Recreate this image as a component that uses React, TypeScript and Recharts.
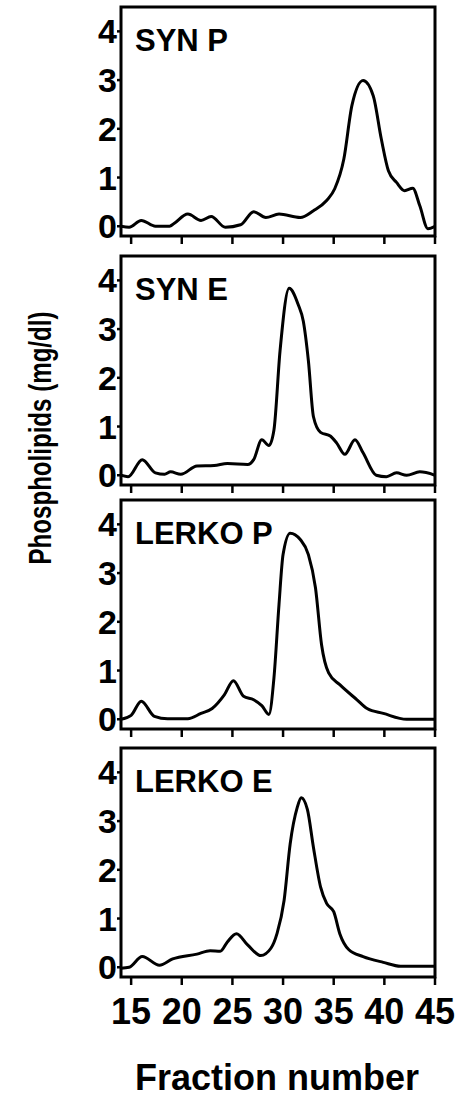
import { LineChart, Line, XAxis, YAxis, ReferenceArea } from "recharts";

// fraction positions and phospholipid values (mg/dl)
const synPFractions = [14, 14.8, 16, 17.4, 18.8, 19.2, 20.6, 21.9, 22.9, 24.3, 25.8, 27.1, 28.3, 29.6, 31.7, 33.0, 34.3, 35.1, 36.0, 36.8, 37.9, 38.9, 39.7, 40.4, 41.2, 42.0, 42.8, 43.5, 44.3, 45];
const synPValues = [0, -0.02, 0.12, 0, 0, 0.05, 0.25, 0.12, 0.2, -0.02, 0.03, 0.3, 0.18, 0.25, 0.18, 0.32, 0.53, 0.77, 1.38, 2.48, 2.99, 2.68, 1.79, 1.14, 0.9, 0.73, 0.78, 0.42, -0.05, 0];

const synEFractions = [14, 14.7, 16.1, 17.4, 18.3, 18.9, 19.9, 21.5, 23.2, 24.5, 26.5, 27.1, 27.9, 28.6, 29.1, 29.7, 30.6, 31.5, 32.0, 32.5, 33.0, 33.7, 34.7, 35.3, 36.1, 37.1, 37.9, 39.2, 40.2, 41.2, 42.2, 43.5, 45];
const synEValues = [0, -0.03, 0.32, 0.05, 0.02, 0.07, 0.02, 0.19, 0.2, 0.24, 0.22, 0.32, 0.73, 0.61, 0.93, 2.55, 3.84, 3.5, 3.16, 2.35, 1.2, 0.88, 0.8, 0.66, 0.43, 0.73, 0.46, 0, -0.03, 0.05, 0, 0.07, 0];

const lerkoPFractions = [14, 15, 16, 17.3, 18.6, 20.6, 21.9, 23.0, 24.2, 25.1, 26.1, 27.1, 27.9, 28.6, 29.1, 29.6, 30.0, 30.7, 31.7, 32.5, 33.2, 33.8, 34.5, 35.6, 37.3, 38.3, 39.9, 42.2, 45];
const lerkoPValues = [0, 0.08, 0.37, 0.06, 0.01, 0.01, 0.12, 0.22, 0.5, 0.79, 0.47, 0.4, 0.28, 0.1, 0.85, 2.36, 3.38, 3.82, 3.69, 3.38, 2.7, 1.53, 0.95, 0.71, 0.4, 0.22, 0.12, 0, 0];

const lerkoEFractions = [14, 14.8, 16.1, 17.8, 19.1, 21.5, 22.8, 23.8, 24.5, 25.4, 26.5, 27.8, 28.8, 29.4, 30.1, 30.7, 31.4, 31.8, 32.4, 33.0, 33.7, 34.3, 35.0, 35.6, 36.5, 37.9, 39.9, 41.6, 45];
const lerkoEValues = [-0.02, 0, 0.22, 0.04, 0.17, 0.27, 0.34, 0.33, 0.52, 0.69, 0.46, 0.24, 0.39, 0.69, 1.37, 2.53, 3.28, 3.48, 3.24, 2.46, 1.65, 1.31, 1.14, 0.69, 0.36, 0.22, 0.1, 0.02, 0.02];

const xTicks = [15, 20, 25, 30, 35, 40, 45];
const yTicks = [0, 1, 2, 3, 4];

const FONT = "'Liberation Sans', Arial, sans-serif";
const PLOT_H = 229;

interface PanelProps {
  label: string;
  fractions: number[];
  values: number[];
  top: number;
  showLabels: boolean;
}

function Panel({ label, fractions, values, top, showLabels }: PanelProps) {
  const data = fractions.map((f, i) => ({ fraction: f, value: values[i] }));
  const axisH = showLabels ? 60 : 12;

  return (
    <div style={{ position: "absolute", left: 0, top: top - 5 }}>
      <LineChart
        width={460}
        height={5 + PLOT_H + axisH}
        data={data}
        margin={{ top: 5, right: 25, bottom: 0, left: 0 }}
      >
        <XAxis
          type="number"
          dataKey="fraction"
          domain={[14, 45]}
          ticks={xTicks}
          allowDataOverflow
          axisLine={false}
          tickSize={8}
          tickMargin={13}
          height={axisH}
          tickLine={{ stroke: "#000", strokeWidth: 2.5 }}
          tickFormatter={(v) => (showLabels ? String(v) : "")}
          tick={{ fontSize: 36, fontWeight: 700, fill: "#000", fontFamily: FONT }}
        />
        <YAxis
          type="number"
          domain={[-0.2, 4.5]}
          ticks={yTicks}
          allowDataOverflow
          width={121}
          axisLine={false}
          tickSize={4}
          tickMargin={0}
          tickLine={{ stroke: "#000", strokeWidth: 2.5 }}
          tick={{ fontSize: 34, fontWeight: 700, fill: "#000", fontFamily: FONT }}
        />
        <ReferenceArea
          x1={14}
          x2={45}
          y1={-0.2}
          y2={4.5}
          fill="none"
          stroke="#000"
          strokeWidth={3}
          label={{
            value: label,
            position: "insideTopLeft",
            offset: 14,
            fontSize: 31,
            fontWeight: 700,
            fill: "#000",
            fontFamily: FONT,
            dy: 8,
          }}
        />
        <Line
          type="monotone"
          dataKey="value"
          stroke="#000"
          strokeWidth={3}
          dot={false}
          isAnimationActive={false}
        />
      </LineChart>
    </div>
  );
}

export default function App() {
  return (
    <div
      style={{
        position: "absolute",
        left: 0,
        top: 0,
        width: 460,
        height: 1099,
        background: "#fff",
        fontFamily: FONT,
      }}
    >
      <Panel label="SYN P" fractions={synPFractions} values={synPValues} top={7} showLabels={false} />
      <Panel label="SYN E" fractions={synEFractions} values={synEValues} top={256} showLabels={false} />
      <Panel label="LERKO P" fractions={lerkoPFractions} values={lerkoPValues} top={500} showLabels={false} />
      <Panel label="LERKO E" fractions={lerkoEFractions} values={lerkoEValues} top={748} showLabels={true} />

      <svg
        width={460}
        height={1099}
        style={{ position: "absolute", left: 0, top: 0, pointerEvents: "none" }}
      >
        <text
          x={51}
          y={438}
          transform="rotate(-90 51 438)"
          textAnchor="middle"
          fontSize={31}
          fontWeight={700}
          fontFamily={FONT}
          fill="#000"
          textLength={253}
          lengthAdjust="spacingAndGlyphs"
        >
          Phospholipids (mg/dl)
        </text>
        <text
          x={277}
          y={1090}
          textAnchor="middle"
          fontSize={36}
          fontWeight={700}
          fontFamily={FONT}
          fill="#000"
        >
          Fraction number
        </text>
      </svg>
    </div>
  );
}
